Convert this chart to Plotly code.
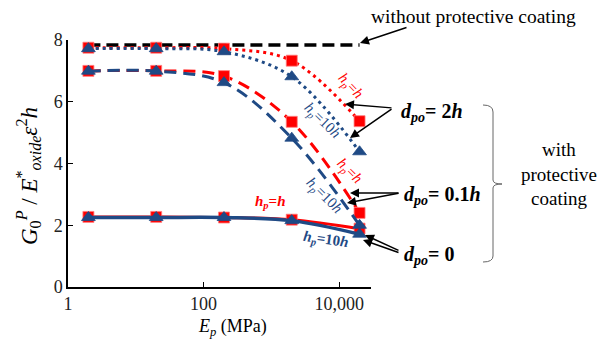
import plotly.graph_objects as go

# Data (E_p in MPa, normalized energy release rate)
Ep = [2, 20, 200, 2000, 20000]
no_coating_x = [2, 20000]
no_coating_y = [7.84, 7.84]
d2h_hp1 = [7.75, 7.75, 7.72, 7.33, 5.37]
d2h_hp10 = [7.72, 7.72, 7.62, 6.81, 4.38]
d01h_hp1 = [7.0, 7.0, 6.83, 5.35, 2.40]
d01h_hp10 = [6.99, 6.99, 6.62, 4.82, 2.00]
d0_hp1 = [2.27, 2.27, 2.25, 2.18, 1.89]
d0_hp10 = [2.25, 2.25, 2.25, 2.15, 1.71]

x_tickvals = [1, 100, 10000]
x_ticktext = ["1", "100", "10,000"]
y_tickvals = [0, 2, 4, 6, 8]

RED = "#ff0000"
BLUE = "#1f4a85"
FONT = "Liberation Serif"

L, T, W, H = 68, 40, 303, 247
def px(x):
    return (x - L) / W
def py(y):
    return (T + H - y) / H

fig = go.Figure()

def add(y, color, dash, symbol, width=3):
    fig.add_trace(go.Scatter(
        x=Ep, y=y, mode="lines+markers",
        line=dict(color=color, dash=dash, width=width, shape="spline", smoothing=1.0),
        marker=dict(symbol=symbol, size=12 if symbol == "triangle-up" else 11, color=color,
                    line=dict(width=0.8, color="#ff8080" if color == RED else color)),
        showlegend=False, cliponaxis=False))

fig.add_trace(go.Scatter(x=no_coating_x, y=no_coating_y, mode="lines",
                         line=dict(color="black", dash="12px,6px", width=3.5),
                         showlegend=False, cliponaxis=False))
add(d2h_hp1, RED, "3px,4px", "square")
add(d01h_hp1, RED, "12px,7px", "square")
add(d0_hp1, RED, "solid", "square")
add(d2h_hp10, BLUE, "3px,4px", "triangle-up")
add(d01h_hp10, BLUE, "12px,7px", "triangle-up")
add(d0_hp10, BLUE, "solid", "triangle-up", width=3.5)

ann = []
def text(x, y, s, size=16, color="black", angle=0, xanchor="center"):
    ann.append(dict(xref="paper", yref="paper", x=px(x), y=py(y), text=s, showarrow=False,
                    font=dict(family=FONT, size=size, color=color), textangle=angle,
                    xanchor=xanchor, yanchor="middle"))
def arrow(x0, y0, x1, y1):
    ann.append(dict(xref="paper", yref="paper", x=px(x1), y=py(y1),
                    axref="pixel", ayref="pixel", ax=x0 - x1, ay=y0 - y1,
                    text="", showarrow=True, arrowhead=2, arrowsize=1.2,
                    arrowwidth=1.5, arrowcolor="black"))

text(473, 17, "without protective coating", 19.5)
arrow(408, 27, 360, 43)

text(399, 112, "<b><i>d</i><sub><i>po</i></sub>= 2<i>h</i></b>", 20, xanchor="left")
arrow(393, 108, 345, 104)
arrow(393, 108, 350, 138)

text(402, 195, "<b><i>d</i><sub><i>po</i></sub>= 0.1<i>h</i></b>", 20, xanchor="left")
arrow(400, 193, 350, 193)
arrow(400, 193, 347, 203)

text(402, 255, "<b><i>d</i><sub><i>po</i></sub>= 0</b>", 20, xanchor="left")
arrow(400, 251, 365, 235)
arrow(400, 253, 363, 240)

text(519, 174, "with<br>protective<br>coating", 19, xanchor="left")

# rotated curve labels
text(350, 86, "<i>h<sub>p</sub></i>=<i>h</i>", 15, RED, 47)
text(322, 121, "<i>h<sub>p</sub></i>=10<i>h</i>", 15, BLUE, 44)
text(349, 171, "<i>h<sub>p</sub></i>=<i>h</i>", 15, RED, 45)
text(324, 196, "<i>h<sub>p</sub></i>=10<i>h</i>", 15, BLUE, 45)
text(270, 202, "<b><i>h<sub>p</sub></i>=<i>h</i></b>", 15, RED, 0)
text(326, 240, "<b><i>h<sub>p</sub></i>=10<i>h</i></b>", 15, BLUE, 8)

ann.append(dict(xref="paper", yref="paper", x=px(28), y=py(176), showarrow=False,
                text="<i>G</i><sub>0</sub><sup><i>P</i></sup> / <i>E</i><sup>*</sup><sub><i>oxide</i></sub><i>ε</i><sup>2</sup><i>h</i>",
                textangle=-90, font=dict(family=FONT, size=23, color="black"),
                xanchor="center", yanchor="middle"))
ann.append(dict(xref="paper", yref="paper", x=px(232), y=py(327), showarrow=False,
                text="<i>E<sub>p</sub></i> (MPa)", font=dict(family=FONT, size=18, color="black"),
                xanchor="center", yanchor="middle"))

bracket = (f"M {px(483)},{py(105)} Q {px(493)},{py(105)} {px(493)},{py(112)} "
           f"L {px(493)},{py(180)} Q {px(493)},{py(184)} {px(502)},{py(184)} "
           f"Q {px(493)},{py(184)} {px(493)},{py(188)} "
           f"L {px(493)},{py(256)} Q {px(493)},{py(262)} {px(483)},{py(262)}")

fig.update_layout(
    width=598, height=345, margin=dict(l=L, r=598 - L - W, t=T, b=345 - T - H),
    paper_bgcolor="white", plot_bgcolor="white",
    font=dict(family=FONT, size=18, color="#222"),
    annotations=ann,
    shapes=[dict(type="path", xref="paper", yref="paper", path=bracket,
                 line=dict(color="#666", width=1))],
    xaxis=dict(type="log", range=[0, 4.47], tickvals=x_tickvals, ticktext=x_ticktext,
               ticks="inside", ticklen=5, tickcolor="black", showline=True, linecolor="black",
               linewidth=1.5, showgrid=False, zeroline=False, tickfont=dict(family=FONT, size=18)),
    yaxis=dict(range=[0, 8], tickvals=y_tickvals, ticks="inside", ticklen=5, tickcolor="black",
               showline=True, linecolor="black", linewidth=1.5, showgrid=False, zeroline=False,
               tickfont=dict(family=FONT, size=18)),
)
fig.write_html("out.html")
